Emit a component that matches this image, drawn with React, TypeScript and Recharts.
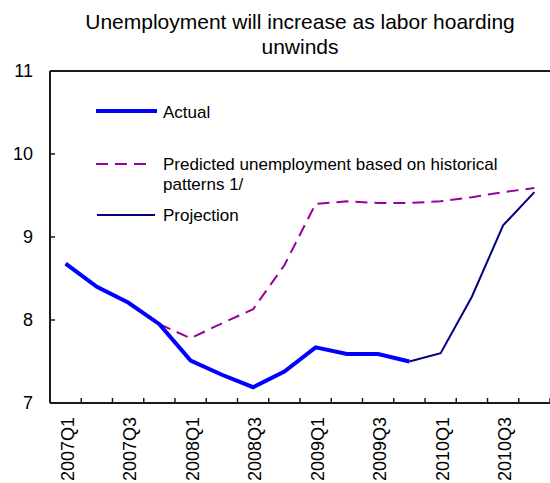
import React from 'react';
import { LineChart, Line, XAxis, YAxis, ReferenceLine } from 'recharts';

const quarters = [
  '2007Q1', '2007Q2', '2007Q3', '2007Q4',
  '2008Q1', '2008Q2', '2008Q3', '2008Q4',
  '2009Q1', '2009Q2', '2009Q3', '2009Q4',
  '2010Q1', '2010Q2', '2010Q3', '2010Q4',
];
const actual = [8.68, 8.4, 8.21, 7.95, 7.51, 7.34, 7.19, 7.38, 7.67, 7.59, 7.59, 7.5, null, null, null, null];
const projection = [null, null, null, null, null, null, null, null, null, null, null, 7.5, 7.6, 8.28, 9.14, 9.54];
const predicted = [null, null, null, 7.95, 7.78, 7.96, 8.13, 8.66, 9.4, 9.43, 9.41, 9.41, 9.43, 9.48, 9.54, 9.59];
const yTicks = [7, 8, 9, 10, 11];

const titleLines = ['Unemployment will increase as labor hoarding', 'unwinds'];
const legendActual = 'Actual';
const legendPredicted = ['Predicted unemployment based on historical', 'patterns 1/'];
const legendProjection = 'Projection';

const data = quarters.map((q, i) => ({
  q,
  actual: actual[i],
  projection: projection[i],
  predicted: predicted[i],
}));

const FONT = '"Liberation Sans", Arial, Helvetica, sans-serif';
const W = 550;
const H = 483;
const AXIS = '#1a1a1a';

const XTick = (props: any) => {
  const { x, y, payload, index } = props;
  const half = payload && typeof payload.offset === 'number' && payload.offset > 0 ? payload.offset : 15.625;
  return (
    <g>
      <line x1={x + half} x2={x + half} y1={y - 5} y2={y} stroke={AXIS} strokeWidth={1.5} />
      {index % 2 === 0 && (
        <text
          x={x + 2}
          y={y + 14}
          transform={`rotate(-90, ${x + 2}, ${y + 14})`}
          textAnchor="end"
          dy="0.35em"
          fontSize={18}
          fontFamily={FONT}
          fill="#000"
        >
          {payload.value}
        </text>
      )}
    </g>
  );
};

const YTick = (props: any) => {
  const { x, y, payload } = props;
  return (
    <g>
      <line x1={x} x2={x + 5} y1={y} y2={y} stroke={AXIS} strokeWidth={1.5} />
      <text x={x - 17} y={y} dy="0.35em" textAnchor="end" fontSize={18} fontFamily={FONT} fill="#000">
        {payload.value}
      </text>
    </g>
  );
};

export default function App() {
  return (
    <div style={{ position: 'absolute', left: 0, top: 0, width: W, height: H, background: '#fff' }}>
      <LineChart width={W} height={H} data={data} margin={{ top: 71, right: 0, bottom: 0, left: 0 }}>
        <XAxis
          dataKey="q"
          scale="band"
          height={80}
          interval={0}
          tickSize={0}
          tickMargin={0}
          tickLine={false}
          tick={<XTick />}
          axisLine={{ stroke: AXIS, strokeWidth: 2 }}
        />
        <YAxis
          width={50}
          domain={[7, 11]}
          ticks={yTicks}
          tickSize={0}
          tickMargin={0}
          tickLine={false}
          tick={<YTick />}
          axisLine={{ stroke: AXIS, strokeWidth: 2 }}
        />
        <ReferenceLine y={11} stroke={AXIS} strokeWidth={2} />
        <Line
          dataKey="predicted"
          stroke="#990099"
          strokeWidth={2}
          strokeDasharray="12 7"
          dot={false}
          isAnimationActive={false}
          type="linear"
        />
        <Line dataKey="actual" stroke="#0000FF" strokeWidth={4} dot={false} isAnimationActive={false} type="linear" />
        <Line dataKey="projection" stroke="#000080" strokeWidth={2} dot={false} isAnimationActive={false} type="linear" />
      </LineChart>
      <svg width={W} height={H} style={{ position: 'absolute', left: 0, top: 0, pointerEvents: 'none' }}>
        <g fontFamily={FONT} fill="#000">
          <text x={300} y={29} textAnchor="middle" fontSize={21}>{titleLines[0]}</text>
          <text x={300} y={54} textAnchor="middle" fontSize={21}>{titleLines[1]}</text>

          <line x1={96} x2={157} y1={111} y2={111} stroke="#0000FF" strokeWidth={4} />
          <text x={163} y={118} fontSize={17}>{legendActual}</text>

          <line x1={96} x2={150} y1={164} y2={164} stroke="#990099" strokeWidth={2} strokeDasharray="12 7" />
          <text x={163} y={170} fontSize={17}>{legendPredicted[0]}</text>
          <text x={163} y={190} fontSize={17}>{legendPredicted[1]}</text>

          <line x1={97} x2={155} y1={215} y2={215} stroke="#000080" strokeWidth={2} />
          <text x={163} y={221} fontSize={17}>{legendProjection}</text>
        </g>
      </svg>
    </div>
  );
}
